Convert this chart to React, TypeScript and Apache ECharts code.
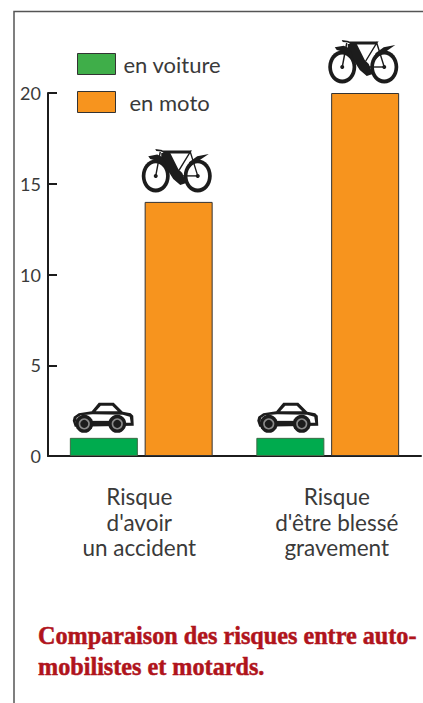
import React, { useEffect, useRef } from "react";
import * as echarts from "echarts";

const categories = ["Risque\nd'avoir\nun accident", "Risque\nd'être blessé\ngravement"];
const voiture = [1, 1];
const moto = [14, 20];
const yTicks = [0, 5, 10, 15, 20];
const seriesNames = ["en voiture", "en moto"];
const title = "Comparaison des risques entre auto-\nmobilistes et motards.";

const narrow = "Lato, 'Liberation Sans', sans-serif";
const INK = "#1c1c1c";

function bike(x: number, y: number) {
  const wheel = (cx: number) => [
    { type: "ellipse", shape: { cx, cy: 27, rx: 14, ry: 16.5 }, style: { fill: INK } },
    { type: "ellipse", shape: { cx, cy: 27, rx: 10.3, ry: 12.6 }, style: { fill: "#fff" } },
    { type: "circle", shape: { cx, cy: 27, r: 2 }, style: { fill: INK } },
  ];
  const thin = { stroke: INK, lineWidth: 1.4, fill: "none" };
  return {
    type: "group",
    x,
    y,
    children: [
      ...wheel(13.5),
      ...wheel(55.5),
      { type: "polyline", shape: { points: [[13.5, 27], [18, 3]] }, style: thin },
      { type: "polyline", shape: { points: [[55.5, 27], [48, 3], [37, 21]] }, style: thin },
      { type: "polyline", shape: { points: [[38, 27], [55.5, 27]] }, style: thin },
      { type: "polygon", shape: { points: [[13, 0], [20, 1], [20, 2.5], [14, 2]] }, style: { fill: INK } },
      { type: "polygon", shape: { points: [[18, 1.5], [50, 1.5], [47, 4.5], [22, 4.5]] }, style: { fill: INK } },
      { type: "polygon", shape: { points: [[19, 4], [28, 4], [36, 20], [40, 24], [44, 34], [38, 36], [31, 30], [24, 19], [19, 10]] }, style: { fill: INK } },
      { type: "polygon", shape: { points: [[6, 7.3], [15, 5.7], [20, 8], [23, 13], [25, 21], [21, 17], [16.5, 12.3], [8, 10]] }, style: { fill: INK } },
      { type: "polygon", shape: { points: [[66.5, 5], [55, 7.3], [47, 13], [44, 22], [47.5, 19], [50, 15.7], [58.3, 10.7]] }, style: { fill: INK } },
    ],
  };
}

function car(x: number, y: number) {
  const wheel = (cx: number) => [
    { type: "circle", shape: { cx, cy: 21, r: 9 }, style: { fill: INK } },
    { type: "circle", shape: { cx, cy: 21, r: 5.6 }, style: { fill: "#8a8a8a" } },
    { type: "circle", shape: { cx, cy: 21, r: 4 }, style: { fill: INK } },
  ];
  return {
    type: "group",
    x,
    y,
    children: [
      { type: "polygon", shape: { points: [[0, 18], [1, 14], [6, 10.5], [19, 8.5], [26, 0], [41, 0], [50, 9], [58, 10.5], [60.5, 13], [61, 23], [2, 24]] }, style: { fill: INK } },
      { type: "polygon", shape: { points: [[3, 19], [4, 15], [8, 12.5], [20, 11.5], [50, 12], [57, 14], [58, 20], [3, 20]] }, style: { fill: "#fff" } },
      { type: "polygon", shape: { points: [[23, 8.5], [28, 3], [39.5, 3], [45, 8.5]] }, style: { fill: "#fff" } },
      { type: "rect", shape: { x: 15, y: 18, width: 25, height: 5 }, style: { fill: INK } },
      ...wheel(11.5),
      ...wheel(44.5),
    ],
  };
}

export default function App() {
  const ref = useRef<HTMLDivElement>(null);
  useEffect(() => {
    const chart = echarts.init(ref.current!, null, { renderer: "svg" });
    const renderIcon = (kind: "car" | "bike") => (params: any, api: any) => {
      const p = api.coord([api.value(0), api.value(1)]);
      if (kind === "bike") return bike(p[0] + 1, p[1] - 53);
      return car(p[0] - 38 - params.dataIndex * 2 - 30.5, p[1] - 35);
    };
    chart.setOption({
      animation: false,
      title: {
        text: title,
        left: 38,
        top: 620,
        padding: 0,
        textStyle: {
          fontFamily: "'Liberation Serif', serif",
          fontWeight: "bold",
          fontSize: 24.2,
          lineHeight: 31,
          color: "#B0141C",
          textBorderColor: "#B0141C",
          textBorderWidth: 0.5,
        },
      },
      legend: {
        orient: "vertical",
        left: 77,
        top: 53,
        padding: 0,
        itemWidth: 38,
        itemHeight: 21,
        itemGap: 16,
        itemStyle: { borderColor: "#333", borderWidth: 1 },
        textStyle: { fontFamily: narrow, fontSize: 22, color: "#3a3a3a", padding: [0, 0, 0, 3] },
        data: [
          { name: seriesNames[0], icon: "rect", itemStyle: { color: "#3FAE49" } },
          { name: seriesNames[1], icon: "rect", textStyle: { padding: [0, 0, 0, 9] } },
        ],
      },
      grid: { left: 48, right: 2, top: 93, bottom: 247 },
      xAxis: {
        type: "category",
        data: [
          { value: categories[0], textStyle: { padding: [0, 4, 0, 0] } },
          { value: categories[1], textStyle: { padding: [0, 0, 0, 18] } },
        ],
        axisLine: { lineStyle: { color: INK, width: 2 } },
        axisTick: { inside: true, length: 9, lineStyle: { color: INK, width: 2 } },
        axisLabel: {
          margin: 28,
          interval: 0,
          fontFamily: narrow,
          fontSize: 22.5,
          lineHeight: 25.5,
          color: "#3a3a3a",
          align: "center",
        },
      },
      yAxis: {
        type: "value",
        min: yTicks[0],
        max: yTicks[yTicks.length - 1],
        interval: 5,
        splitLine: { show: false },
        axisLine: { show: true, lineStyle: { color: INK, width: 2 } },
        axisTick: { show: true, inside: true, length: 9, lineStyle: { color: INK, width: 2 } },
        axisLabel: { margin: 7, fontFamily: narrow, fontSize: 18, color: "#3a3a3a" },
      },
      series: [
        {
          name: seriesNames[0],
          type: "bar",
          data: voiture,
          barWidth: 68,
          barGap: "10%",
          itemStyle: { color: "#00AB4E", borderColor: "#3b6b45", borderWidth: 1 },
        },
        {
          name: seriesNames[1],
          type: "bar",
          data: moto,
          barWidth: 68,
          barGap: "10%",
          itemStyle: { color: "#F7941E", borderColor: "#333", borderWidth: 1 },
        },
        { type: "custom", renderItem: renderIcon("car"), data: voiture.map((v, i) => [i, v]), encode: { x: 0, y: 1 }, silent: true, z: 5 },
        { type: "custom", renderItem: renderIcon("bike"), data: moto.map((v, i) => [i, v]), encode: { x: 0, y: 1 }, silent: true, z: 5 },
      ],
      graphic: [
        {
          type: "polyline",
          silent: true,
          shape: { points: [[14, 703], [14, 11.5], [423, 11.5]] },
          style: { stroke: "#555", lineWidth: 1.5, fill: "none" },
        },
      ],
    });
    return () => chart.dispose();
  }, []);
  return <div ref={ref} style={{ position: "fixed", left: 0, top: 0, width: 423, height: 703, background: "#fff" }} />;
}
